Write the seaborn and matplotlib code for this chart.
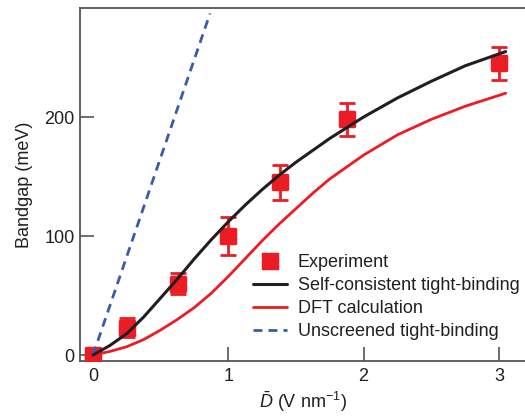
import matplotlib
matplotlib.use("Agg")
import matplotlib.pyplot as plt
import seaborn as sns
import pandas as pd
from matplotlib.lines import Line2D

sns.set_theme(style="white")
plt.rcParams['font.family'] = ['Liberation Sans', 'DejaVu Sans']
plt.rcParams['mathtext.fontset'] = 'custom'
plt.rcParams['mathtext.rm'] = 'Liberation Sans'
plt.rcParams['mathtext.it'] = 'Liberation Sans:italic'

# Experiment
exp_x = [0.0, 0.25, 0.63, 1.0, 1.38, 1.88, 3.0]
exp_y = [0.0, 23, 60, 100, 145, 198, 245]
exp_err = [0, 8, 9, 16, 15, 14, 14]

# Self-consistent tight-binding
sc_x = [0.0, 0.125, 0.25, 0.375, 0.5, 0.625, 0.75, 0.875, 1.0, 1.125, 1.25, 1.375,
        1.5, 1.625, 1.75, 1.875, 2.0, 2.25, 2.5, 2.75, 3.05]
sc_y = [0.0, 8, 18, 32, 48, 64, 81, 97, 112, 126, 139, 151,
        162, 172, 182, 191, 200, 216, 230, 243, 255]

# DFT calculation
dft_x = [0.0, 0.125, 0.25, 0.375, 0.5, 0.625, 0.75, 0.875, 1.0, 1.125, 1.25, 1.375,
         1.5, 1.625, 1.75, 1.875, 2.0, 2.25, 2.5, 2.75, 3.05]
dft_y = [0.0, 3, 7, 13, 21, 30, 40, 52, 66, 81, 96, 110,
         123, 136, 148, 158, 168, 185, 198, 209, 220]

# Unscreened tight-binding
un_x = [0.0, 0.865]
un_y = [0.0, 287]

RED = '#EC1C24'
BLACK = '#231F20'
BLUE = '#3A5BAA'

fig = plt.figure(figsize=(5.25, 4.17), dpi=100)
ax = fig.add_axes([80/525, 56/417, 1 - 80/525, (361-8)/417])

ax.errorbar(exp_x, exp_y, yerr=exp_err, fmt='none', ecolor=RED, elinewidth=2,
            capsize=6, capthick=2, zorder=2)
sns.scatterplot(x=exp_x, y=exp_y, ax=ax, marker='s', s=100, color=RED,
                edgecolor=RED, linewidth=2.5, zorder=3, legend=False)
for m in ax.collections:
    m.set_joinstyle('round')

sns.lineplot(x=un_x, y=un_y, ax=ax, color=BLUE, lw=2, linestyle=(0, (3.2, 2.2)),
             zorder=4, estimator=None, sort=False)
sns.lineplot(x=dft_x, y=dft_y, ax=ax, color=RED, lw=2, zorder=4, estimator=None)
sns.lineplot(x=sc_x, y=sc_y, ax=ax, color=BLACK, lw=2.2, zorder=5, estimator=None)

ax.set_xlim(-13/135.3, 432/135.3)
ax.set_ylim(-5.04, 291.6)
ax.set_xticks([0, 1, 2, 3])
ax.set_yticks([0, 100, 200])
ax.tick_params(bottom=True, left=True, direction='in', length=10, width=1.2,
               color='#555555', labelsize=13, labelcolor='#231F20', pad=5)
ax.tick_params(axis='y', pad=4)
for s in ['left', 'bottom', 'top']:
    ax.spines[s].set_color('#555555')
    ax.spines[s].set_linewidth(1.3)
ax.spines['right'].set_visible(False)

ax.set_ylabel('Bandgap (meV)', fontsize=13, color='#231F20', labelpad=8)
ax.set_xlabel(r'$\bar{D}$ (V nm$^{-1}$)', fontsize=13, color='#231F20', labelpad=3)

handles = [
    Line2D([], [], marker='s', color=RED, linestyle='none', markersize=10,
           markeredgewidth=2.5, markeredgecolor=RED),
    Line2D([], [], color=BLACK, lw=2.2),
    Line2D([], [], color=RED, lw=2),
    Line2D([], [], color=BLUE, lw=2, linestyle=(0, (3.2, 2.2))),
]
labels = ['Experiment', 'Self-consistent tight-binding', 'DFT calculation',
          'Unscreened tight-binding']
leg = ax.legend(handles, labels, loc='lower left', bbox_to_anchor=(0.372, 0.038),
                frameon=False, fontsize=13, handlelength=1.9, handletextpad=0.6,
                labelspacing=0.34, borderaxespad=0)
for t in leg.get_texts():
    t.set_color('#231F20')

fig.savefig('out.png', dpi=100)
